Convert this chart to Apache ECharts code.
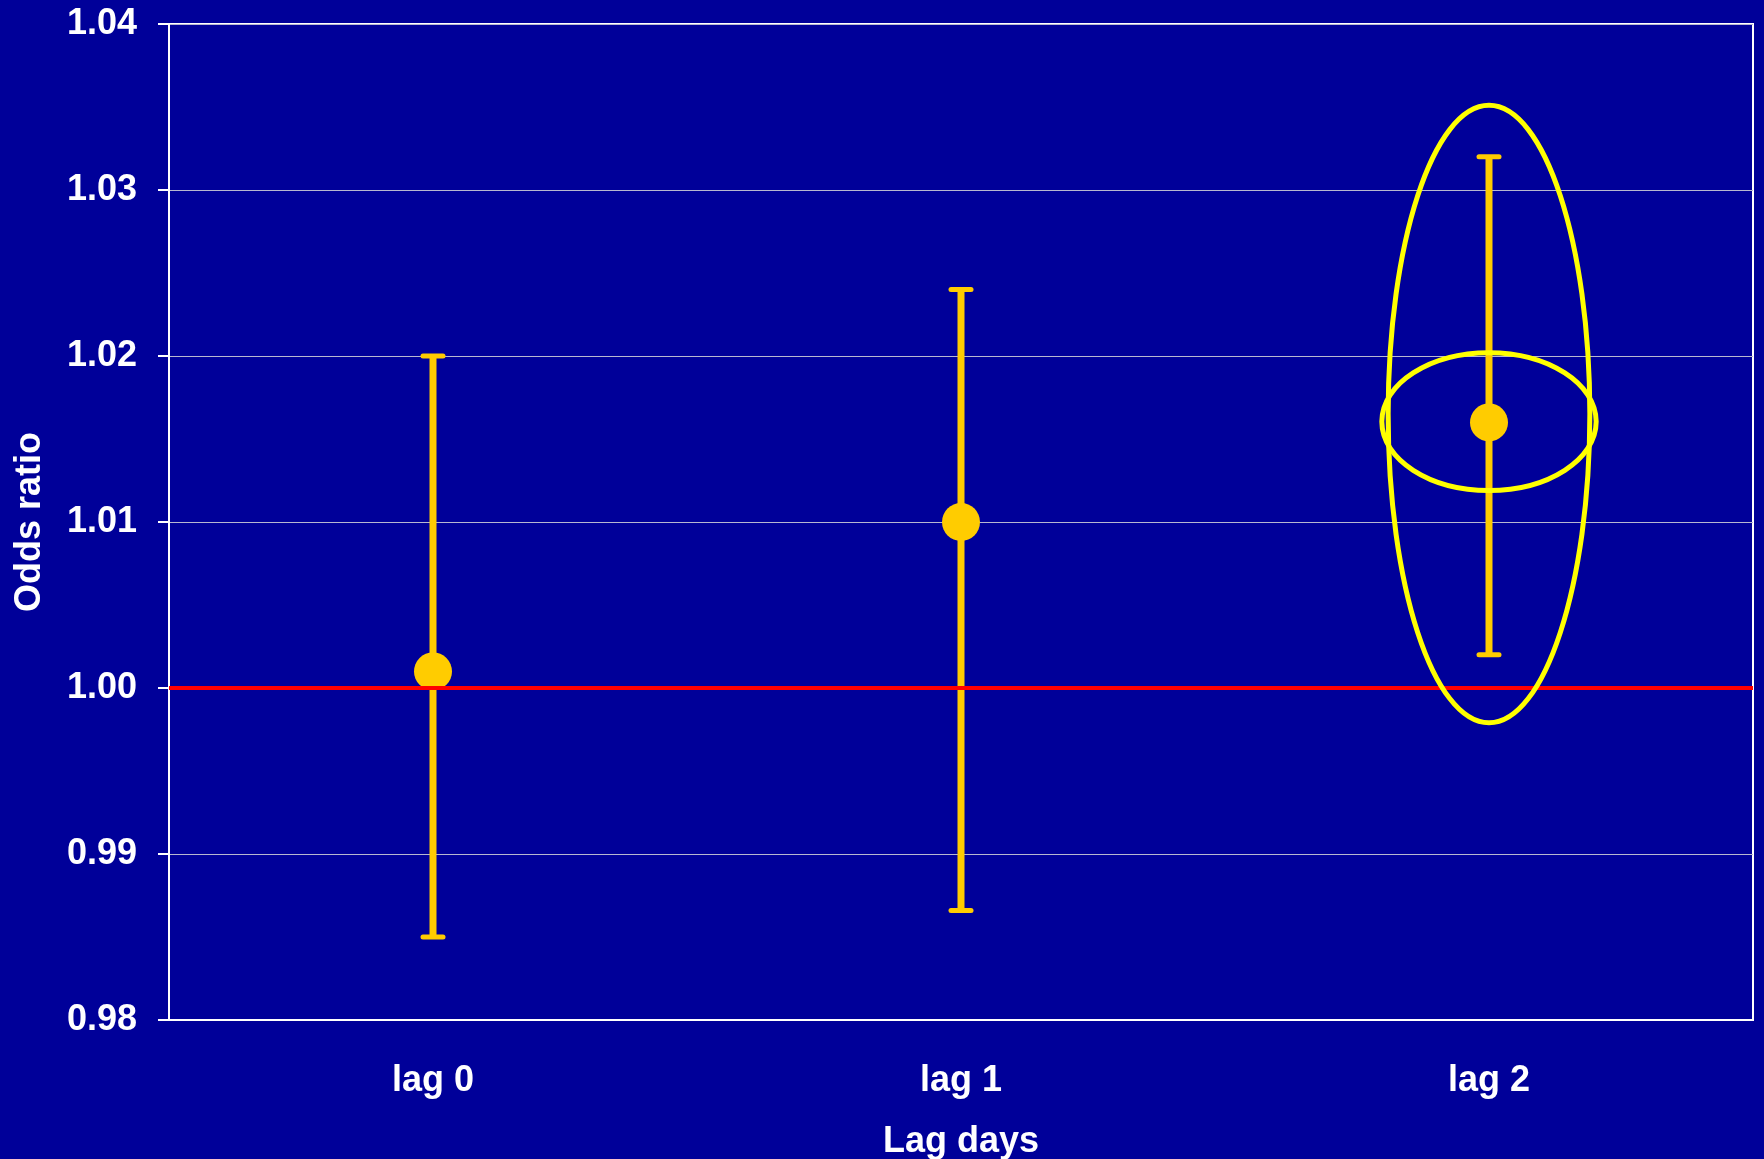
<!DOCTYPE html>
<html><head><meta charset="utf-8">
<script src="https://cdn.jsdelivr.net/npm/echarts@6/dist/echarts.min.js"></script>
<style>html,body{margin:0;padding:0;background:#000099;} #c{width:1764px;height:1159px;}</style>
</head><body><div id="c"></div>
<script>
const categories = ['lag 0', 'lag 1', 'lag 2'];
const oddsRatio = [1.001, 1.010, 1.016];
const ciLower = [0.985, 0.9866, 1.002];
const ciUpper = [1.020, 1.024, 1.032];
const yTicks = [0.98, 0.99, 1.00, 1.01, 1.02, 1.03, 1.04];
const referenceValue = 1.00;
const ellipseCategory = ['lag 2', 'lag 2'];
const ellipseTop = [1.0351, 1.0202];
const ellipseBottom = [0.9979, 1.0119];

const FONT = '"Liberation Sans", Arial, sans-serif';
const GOLD = '#FFCC00';
const ellipseRxFrac = [0.191, 0.203];

const chart = echarts.init(document.getElementById('c'));
chart.setOption({
  backgroundColor: '#000099',
  animation: false,
  grid: { left: 169, right: 11, top: 24, bottom: 139, show: true, borderColor: '#ffffff', borderWidth: 2,
    backgroundColor: 'transparent', containLabel: false, outerBoundsMode: 'none' },
  xAxis: {
    type: 'category', data: categories, boundaryGap: true,
    axisLine: { show: true, lineStyle: { color: '#ffffff', width: 2 } },
    axisTick: { show: false },
    axisLabel: { color: '#ffffff', fontFamily: FONT, fontWeight: 'bold', fontSize: 36, margin: 43 },
    name: 'Lag days', nameLocation: 'middle', nameGap: 104,
    nameTextStyle: { color: '#ffffff', fontFamily: FONT, fontWeight: 'bold', fontSize: 36 },
    splitLine: { show: false }
  },
  yAxis: {
    type: 'value', min: yTicks[0], max: yTicks[yTicks.length - 1], interval: 0.01,
    axisLine: { show: true, lineStyle: { color: '#ffffff', width: 2 } },
    axisTick: { show: true, inside: false, length: 11, lineStyle: { color: '#ffffff', width: 2 } },
    axisLabel: { color: '#ffffff', fontFamily: FONT, fontWeight: 'bold', fontSize: 36, margin: 32,
      formatter: v => v.toFixed(2) },
    splitLine: { show: true, lineStyle: { color: '#b8b8d0', width: 1 } },
    name: 'Odds ratio', nameLocation: 'middle', nameGap: 121, nameRotate: 90,
    nameTextStyle: { color: '#ffffff', fontFamily: FONT, fontWeight: 'bold', fontSize: 36 }
  },
  series: [
    {
      type: 'custom', z: 2,
      data: categories.map((c, i) => [i, ciLower[i], ciUpper[i]]),
      renderItem: function (params, api) {
        const x = api.value(0);
        const lo = api.coord([x, api.value(1)]);
        const hi = api.coord([x, api.value(2)]);
        const h = 10;
        return { type: 'group', children: [
          { type: 'line', shape: { x1: lo[0], y1: lo[1], x2: hi[0], y2: hi[1] }, style: { stroke: GOLD, lineWidth: 7 } },
          { type: 'line', shape: { x1: lo[0] - h, y1: lo[1], x2: lo[0] + h, y2: lo[1] }, style: { stroke: GOLD, lineWidth: 5, lineCap: 'round' } },
          { type: 'line', shape: { x1: hi[0] - h, y1: hi[1], x2: hi[0] + h, y2: hi[1] }, style: { stroke: GOLD, lineWidth: 5, lineCap: 'round' } }
        ] };
      }
    },
    {
      type: 'scatter', z: 3, symbol: 'circle', symbolSize: 38,
      itemStyle: { color: GOLD, opacity: 1 },
      data: oddsRatio
    },
    {
      type: 'line', z: 4, data: [], silent: true,
      markLine: {
        silent: true, symbol: 'none', label: { show: false },
        lineStyle: { color: '#FF0000', width: 4, type: 'solid', opacity: 1 },
        data: [{ yAxis: referenceValue }]
      }
    },
    {
      type: 'custom', z: 5,
      data: ellipseCategory.map((c, i) => [categories.indexOf(c), ellipseTop[i], ellipseBottom[i]]),
      renderItem: function (params, api) {
        const x = api.value(0);
        const t = api.coord([x, api.value(1)]);
        const b = api.coord([x, api.value(2)]);
        const band = api.size([1, 0])[0];
        const rx = band * ellipseRxFrac[params.dataIndex];
        return { type: 'ellipse', shape: { cx: t[0], cy: (t[1] + b[1]) / 2, rx: rx, ry: Math.abs(b[1] - t[1]) / 2 },
          style: { fill: 'none', stroke: '#FFFF00', lineWidth: 5 } };
      }
    }
  ]
});
</script>
</body></html>
